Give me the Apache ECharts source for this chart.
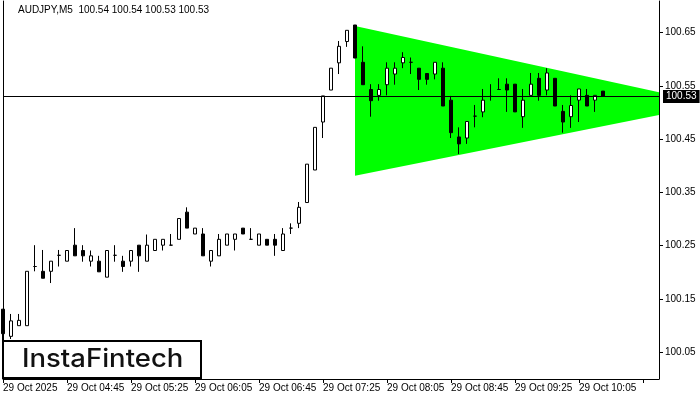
<!DOCTYPE html>
<html>
<head>
<meta charset="utf-8">
<script src="https://cdn.jsdelivr.net/npm/echarts@6/dist/echarts.min.js"></script>
<style>
html,body{margin:0;padding:0;background:#fff;}
#c{width:700px;height:400px;}
</style>
</head>
<body>
<div id="c"></div>
<script>
// ---- data ----
const symbolName = 'AUDJPY,M5';
const lastQuote = ['100.54', '100.54', '100.53', '100.53'];
const currentPrice = 100.53;

const tickLabels = ['29 Oct 2025', '29 Oct 04:45', '29 Oct 05:25', '29 Oct 06:05', '29 Oct 06:45',
  '29 Oct 07:25', '29 Oct 08:05', '29 Oct 08:45', '29 Oct 09:25', '29 Oct 10:05'];
const priceTicks = [100.05, 100.15, 100.25, 100.35, 100.45, 100.55, 100.65];

const opens = [100.131,100.080,100.100,100.100,100.211,100.202,100.202,100.232,100.221,100.251,
  100.241,100.221,100.221,100.191,100.232,100.221,100.221,100.251,100.221,100.241,
  100.251,100.251,100.262,100.313,100.272,100.272,100.221,100.231,100.251,100.262,
  100.283,100.262,100.251,100.262,100.262,100.241,100.283,100.292,100.331,100.392,
  100.482,100.542,100.593,100.633,100.664,100.594,100.543,100.532,100.552,100.572,
  100.593,100.594,100.583,100.573,100.572,100.583,100.523,100.454,100.452,100.493,
  100.501,100.530,100.543,100.553,100.553,100.492,100.532,100.564,100.542,100.564,
  100.502,100.492,100.523,100.532,100.523,100.540];
const highs = [100.131,100.122,100.122,100.202,100.251,100.242,100.221,100.242,100.241,100.283,
  100.251,100.241,100.231,100.241,100.251,100.231,100.241,100.251,100.271,100.262,
  100.262,100.272,100.301,100.322,100.283,100.283,100.241,100.272,100.272,100.272,
  100.283,100.283,100.272,100.262,100.272,100.283,100.292,100.332,100.403,100.472,
  100.531,100.583,100.634,100.654,100.664,100.624,100.553,100.553,100.594,100.594,
  100.613,100.603,100.583,100.573,100.594,100.594,100.531,100.472,100.483,100.514,
  100.544,100.553,100.564,100.564,100.553,100.544,100.574,100.574,100.583,100.564,
  100.514,100.532,100.544,100.544,100.532,100.540];
const lows = [100.070,100.075,100.100,100.100,100.202,100.189,100.180,100.211,100.221,100.231,
  100.220,100.211,100.201,100.191,100.220,100.201,100.211,100.201,100.221,100.241,
  100.241,100.251,100.262,100.283,100.272,100.231,100.211,100.231,100.251,100.241,
  100.272,100.262,100.251,100.251,100.231,100.241,100.272,100.283,100.331,100.392,
  100.452,100.542,100.572,100.623,100.602,100.552,100.492,100.522,100.532,100.552,
  100.583,100.572,100.542,100.552,100.562,100.512,100.452,100.422,100.441,100.472,
  100.491,100.522,100.543,100.501,100.501,100.471,100.532,100.522,100.532,100.512,
  100.462,100.471,100.482,100.512,100.501,100.530];
const closes = [100.085,100.109,100.110,100.202,100.211,100.189,100.221,100.232,100.241,100.231,
  100.231,100.231,100.201,100.241,100.232,100.211,100.241,100.231,100.251,100.262,
  100.262,100.251,100.301,100.283,100.283,100.231,100.241,100.262,100.272,100.272,
  100.272,100.262,100.272,100.251,100.251,100.272,100.283,100.322,100.403,100.472,
  100.531,100.583,100.624,100.654,100.602,100.552,100.522,100.543,100.583,100.583,
  100.603,100.594,100.562,100.562,100.594,100.512,100.462,100.441,100.483,100.493,
  100.523,100.530,100.543,100.542,100.501,100.523,100.553,100.532,100.574,100.512,
  100.482,100.513,100.544,100.512,100.532,100.530];

// symmetrical triangle pattern (bar index, upper edge, lower edge)
const patternX = [44, 82];
const patternUpper = [100.662, 100.538];
const patternLower = [100.381, 100.495];

const emptySlots = 7;

// ---- build ----
const totalSlots = opens.length + emptySlots;
const categories = [];
for (let i = 0; i < totalSlots; i++) {
  const m = 4 * 60 + 5 + i * 5;
  const hh = String(Math.floor(m / 60)).padStart(2, '0');
  const mm = String(m % 60).padStart(2, '0');
  categories.push(hh + ':' + mm);
}
const candleData = opens.map((o, i) => [o, closes[i], lows[i], highs[i]]);

const FONT = '"Liberation Sans", Arial, sans-serif';
const chart = echarts.init(document.getElementById('c'), null, {renderer: 'canvas'});
const yMin = 100.0, yMax = 100.709;

chart.setOption({
  animation: false,
  backgroundColor: '#fff',
  title: {
    text: symbolName + '  ' + lastQuote.join(' '),
    left: 18, top: 5, padding: 0,
    textStyle: {fontFamily: FONT, fontSize: 10, fontWeight: 'normal', color: '#000'}
  },
  grid: {left: 3, right: 41, top: 1, bottom: 21, containLabel: false},
  xAxis: {
    type: 'category',
    data: categories,
    boundaryGap: false,
    axisLine: {show: true, lineStyle: {color: '#000', width: 1}},
    axisTick: {show: true, length: 4, interval: (idx) => idx % 8 === 0, lineStyle: {color: '#000'}},
    axisLabel: {
      show: true,
      interval: (idx) => idx % 8 === 0,
      formatter: (v, idx) => tickLabels[idx / 8] || '',
      align: 'left',
      margin: 4,
      fontFamily: FONT, fontSize: 10, color: '#000'
    },
    splitLine: {show: false}
  },
  yAxis: [{
    type: 'value',
    position: 'right',
    min: yMin, max: yMax,
    axisLine: {show: true, lineStyle: {color: '#000', width: 1}},
    axisTick: {show: true, length: 4, customValues: priceTicks, lineStyle: {color: '#000'}},
    axisLabel: {
      show: true, customValues: priceTicks, margin: 6,
      formatter: (v) => v.toFixed(2),
      fontFamily: FONT, fontSize: 10, color: '#000'
    },
    splitLine: {show: false}
  }, {
    type: 'value',
    position: 'left',
    min: yMin, max: yMax,
    axisLine: {show: true, lineStyle: {color: '#000', width: 1}},
    axisTick: {show: false},
    axisLabel: {show: false},
    splitLine: {show: false}
  }],
  series: [{
    type: 'custom',
    name: 'pattern',
    z: 1,
    clip: true,
    data: [[patternX[0], patternUpper[0]]],
    encode: {x: 0, y: 1},
    renderItem: function (params, api) {
      const pts = [
        api.coord([patternX[0], patternUpper[0]]),
        api.coord([patternX[1], patternUpper[1]]),
        api.coord([patternX[1], patternLower[1]]),
        api.coord([patternX[0], patternLower[0]])
      ];
      return {type: 'polygon', shape: {points: pts}, style: {fill: '#00ff00', stroke: null}};
    },
    silent: true
  }, {
    type: 'candlestick',
    name: symbolName,
    z: 3,
    data: candleData,
    barWidth: 4,
    clip: true,
    itemStyle: {
      color: '#ffffff', color0: '#000000',
      borderColor: '#000000', borderColor0: '#000000',
      borderColorDoji: '#000000',
      borderWidth: 1
    },
    markLine: {
      silent: true,
      symbol: ['none', 'none'],
      lineStyle: {color: '#000', width: 1, type: 'solid'},
      label: {
        show: true, position: 'end', distance: 4,
        formatter: () => currentPrice.toFixed(2),
        backgroundColor: '#000', color: '#fff',
        padding: [2, 3, 1, 3],
        fontFamily: FONT, fontSize: 10
      },
      data: [{yAxis: currentPrice}]
    }
  }],
  graphic: [{
    type: 'group', z: 100,
    children: [{
      type: 'rect', z: 100,
      shape: {x: 3, y: 341, width: 198, height: 37},
      style: {fill: '#fff', stroke: '#000', lineWidth: 2}
    }, {
      type: 'text', z: 101,
      x: 22, y: 359, scaleX: 1.1,
      style: {text: 'InstaFintech', fill: '#111', font: '500 25px Inter, "Noto Sans", sans-serif', verticalAlign: 'middle'}
    }]
  }]
});
</script>
</body>
</html>
